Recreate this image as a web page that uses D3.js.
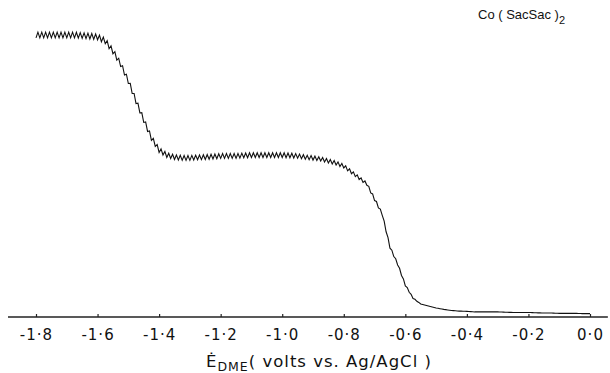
<!DOCTYPE html>
<html>
<head>
<meta charset="utf-8">
<script src="https://cdn.jsdelivr.net/npm/d3@7"></script>
<style>
  html, body { margin: 0; padding: 0; background: #fff; }
  svg { display: block; }
  text { font-family: "DejaVu Sans", sans-serif; fill: #111; }
</style>
</head>
<body>
<svg id="chart" width="610" height="373"></svg>
<script>
// Potential (V vs Ag/AgCl), mean current (arbitrary units) and drop oscillation amplitude (peak-to-peak)
const potential = [-1.800,-1.775,-1.750,-1.725,-1.700,-1.675,-1.650,-1.625,-1.600,-1.575,
  -1.550,-1.525,-1.500,-1.475,-1.450,-1.425,-1.400,-1.375,-1.350,-1.325,
  -1.300,-1.275,-1.250,-1.225,-1.200,-1.175,-1.150,-1.125,-1.100,-1.075,
  -1.050,-1.025,-1.000,-0.975,-0.950,-0.925,-0.900,-0.875,-0.850,-0.825,
  -0.800,-0.775,-0.750,-0.725,-0.700,-0.675,-0.650,-0.625,-0.600,-0.575,
  -0.550,-0.525,-0.500,-0.475,-0.450,-0.425,-0.400,-0.375,-0.350,-0.325,
  -0.300,-0.275,-0.250,-0.225,-0.200,-0.175,-0.150,-0.125,-0.100,-0.075,
  -0.050,-0.025,0.000];
const current = [10.00,10.00,10.00,10.00,10.00,10.00,9.98,9.96,9.93,9.79,
  9.43,8.97,8.37,7.66,6.99,6.35,5.92,5.74,5.67,5.64,
  5.64,5.66,5.67,5.69,5.71,5.71,5.71,5.73,5.74,5.74,
  5.74,5.74,5.74,5.73,5.71,5.67,5.64,5.60,5.53,5.46,
  5.35,5.14,4.93,4.72,4.18,3.65,2.48,1.88,1.13,0.67,
  0.46,0.39,0.32,0.27,0.23,0.21,0.20,0.18,0.18,0.18,
  0.18,0.17,0.16,0.16,0.16,0.15,0.14,0.14,0.13,0.13,
  0.13,0.12,0.12];
const dropAmplitude = [0.20,0.20,0.20,0.20,0.20,0.20,0.20,0.20,0.20,0.20,
  0.19,0.18,0.18,0.18,0.18,0.18,0.17,0.17,0.17,0.17,
  0.17,0.17,0.17,0.17,0.17,0.17,0.17,0.17,0.17,0.17,
  0.17,0.17,0.17,0.17,0.16,0.15,0.15,0.14,0.14,0.14,
  0.13,0.12,0.11,0.10,0.10,0.09,0.08,0.07,0.06,0.03,
  0,0,0,0,0,0,0,0,0,0,
  0,0,0,0,0,0,0,0,0,0,
  0,0,0];
const tickValues = [-1.8,-1.6,-1.4,-1.2,-1.0,-0.8,-0.6,-0.4,-0.2,0.0];
const tickLabels = ["-1·8","-1·6","-1·4","-1·2","-1·0","-0·8","-0·6","-0·4","-0·2","0·0"];
const axisExtent = [-1.891, 0.058];
const compoundName = ["Co ( SacSac )", "2"];
const axisTitle = ["Ė", "DME", "( volts vs. Ag/AgCl )"];

const svg = d3.select("#chart");
const x = d3.scaleLinear().domain([-1.8, 0]).range([36, 590]);
const y = d3.scaleLinear().domain([0, 10]).range([317, 35]);

// Build drop-oscillation trace (2 teeth per data interval)
const trace = [];
for (let i = 0; i < potential.length - 1; i++) {
  for (let k = 0; k < 4; k++) {
    const t = k / 4;
    const v = potential[i] + t * (potential[i+1] - potential[i]);
    const c = current[i] + t * (current[i+1] - current[i]);
    const a = dropAmplitude[i] + t * (dropAmplitude[i+1] - dropAmplitude[i]);
    trace.push({v: v, c: c + (k % 2 === 0 ? -a / 2 : a / 2)});
  }
}
trace.push({v: potential[potential.length-1], c: current[current.length-1]});

// Axis
const axis = d3.axisBottom(x)
  .tickValues(tickValues)
  .tickFormat((d, i) => tickLabels[i])
  .tickSizeInner(-3)
  .tickSizeOuter(0)
  .tickPadding(12);
const gx = svg.append("g").attr("transform", `translate(0,${y(0)})`).call(axis);
gx.select(".domain")
  .attr("d", `M${x(axisExtent[0])},0H${x(axisExtent[1])}`)
  .attr("stroke", "#222").attr("stroke-width", 1.4);
gx.selectAll(".tick line").attr("stroke", "#222").attr("stroke-width", 1.2);
gx.selectAll(".tick text")
  .style("font-family", "'DejaVu Sans', sans-serif")
  .style("font-size", "15px")
  .style("letter-spacing", "1px")
  .attr("fill", "#111");

// Polarogram
svg.append("path")
  .datum(trace)
  .attr("fill", "none")
  .attr("stroke", "#111")
  .attr("stroke-width", 1.1)
  .attr("stroke-linejoin", "miter")
  .attr("d", d3.line().x(d => x(d.v)).y(d => y(d.c)));

// Compound label
const t1 = svg.append("text").attr("x", 478).attr("y", 19)
  .style("font-family", "'Liberation Sans', sans-serif").style("font-size", "13px");
t1.append("tspan").text(compoundName[0]);
t1.append("tspan").attr("dy", 5).style("font-size", "11px").text(compoundName[1]);

// Axis title
const t2 = svg.append("text").attr("x", 206).attr("y", 367)
  .style("font-size", "16.5px").style("letter-spacing", "1px");
t2.append("tspan").text(axisTitle[0]);
t2.append("tspan").attr("dy", 4).style("font-size", "12.5px").text(axisTitle[1]);
t2.append("tspan").attr("dy", -4).text(axisTitle[2]);
</script>
</body>
</html>
